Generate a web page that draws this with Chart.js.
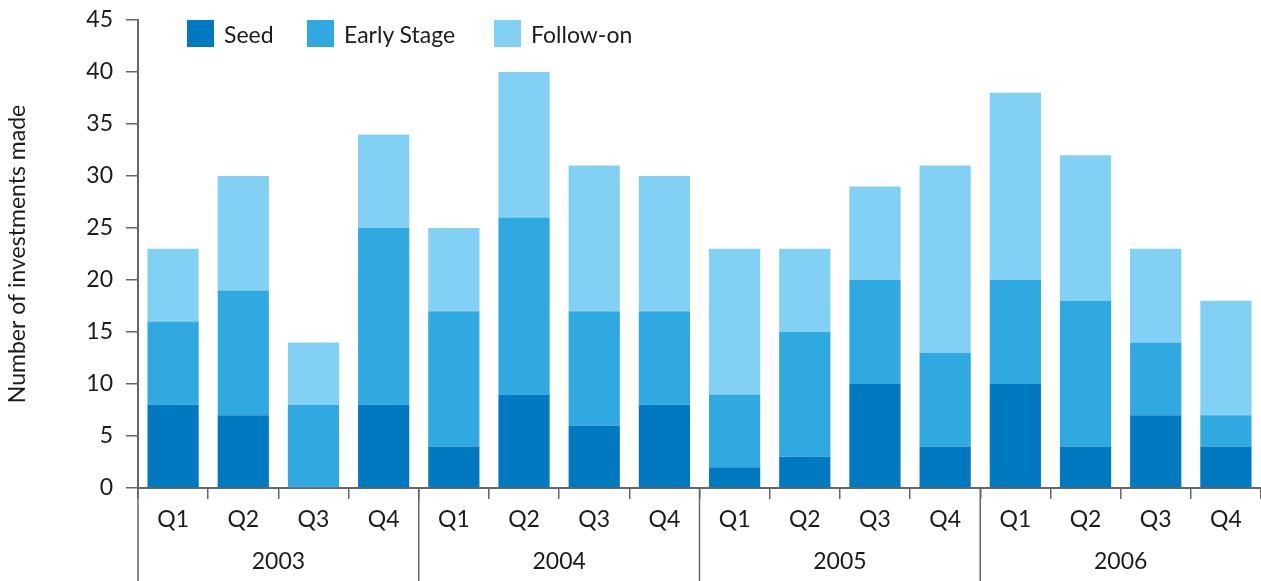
<!DOCTYPE html>
<html lang="en">
<head>
    <meta charset="UTF-8">
    <title>Number of investments made</title>
    <script src="https://cdn.jsdelivr.net/npm/chart.js"></script>
    <style>
        html, body { margin: 0; padding: 0; background: #fff; }
        .wrap { position: relative; width: 1261px; height: 581px; }
        .legend { position: absolute; left: 187px; top: 20px; display: flex; font-family: Lato, sans-serif; font-size: 23px; color: #1e1b1c; }
        .legend .item { display: flex; align-items: center; height: 27px; }
        .legend .box { width: 27px; height: 27px; margin-right: 10px; }
    </style>
</head>
<body>
    <div class="wrap">
        <canvas id="chart"></canvas>
        <div class="legend" id="legend"></div>
    </div>
    <script>
        const quarters = ['Q1', 'Q2', 'Q3', 'Q4', 'Q1', 'Q2', 'Q3', 'Q4', 'Q1', 'Q2', 'Q3', 'Q4', 'Q1', 'Q2', 'Q3', 'Q4'];
        const years = ['2003', '2004', '2005', '2006'];
        const seed       = [8, 7, 0, 8,   4, 9, 6, 8,    2, 3, 10, 4,   10, 4, 7, 4];
        const earlyStage = [8, 12, 8, 17, 13, 17, 11, 9, 7, 12, 10, 9,  10, 14, 7, 3];
        const followOn   = [7, 11, 6, 9,  8, 14, 14, 13, 14, 8, 9, 18,  18, 14, 9, 11];
        const yTicks = [0, 5, 10, 15, 20, 25, 30, 35, 40, 45];

        const colors = { seed: '#0079c1', early: '#30a9e0', follow: '#83d0f5' };
        const axisColor = '#666666';
        const textColor = '#1e1b1c';
        const fontFamily = 'Lato, sans-serif';

        const series = [
            { label: 'Seed', data: seed, color: colors.seed },
            { label: 'Early Stage', data: earlyStage, color: colors.early },
            { label: 'Follow-on', data: followOn, color: colors.follow }
        ];

        // legend as html, widths match the spacing in the original
        const itemWidths = [120, 187, 200];
        const legendEl = document.getElementById('legend');
        series.forEach((s, i) => {
            const item = document.createElement('div');
            item.className = 'item';
            item.style.width = itemWidths[i] + 'px';
            item.innerHTML = `<span class="box" style="background:${s.color}"></span><span>${s.label}</span>`;
            legendEl.appendChild(item);
        });

        // long separators between years, through both label rows
        const yearLines = {
            id: 'yearLines',
            afterDraw(chart) {
                const x = chart.scales.x;
                const step = x.getPixelForValue(1) - x.getPixelForValue(0);
                const ctx = chart.ctx;
                ctx.save();
                ctx.strokeStyle = axisColor;
                ctx.lineWidth = 1.5;
                for (let i = 0; i < quarters.length; i += 4) {
                    const px = x.getPixelForValue(i) - step / 2;
                    ctx.beginPath();
                    ctx.moveTo(px, chart.chartArea.bottom);
                    ctx.lineTo(px, chart.height);
                    ctx.stroke();
                }
                ctx.restore();
            }
        };

        new Chart(document.getElementById('chart'), {
            type: 'bar',
            data: {
                labels: quarters,
                datasets: series.map(s => ({
                    label: s.label,
                    data: s.data,
                    backgroundColor: s.color,
                    borderWidth: 0,
                    barPercentage: 0.73,
                    categoryPercentage: 1
                }))
            },
            options: {
                responsive: true,
                maintainAspectRatio: false,
                animation: false,
                layout: { padding: { top: 20, right: 0, bottom: 0, left: 0 } },
                plugins: {
                    legend: { display: false },
                    tooltip: { enabled: false }
                },
                scales: {
                    x: {
                        stacked: true,
                        offset: true,
                        grid: { drawOnChartArea: false, offset: true, tickLength: 11, color: axisColor, lineWidth: 1.5 },
                        border: { color: axisColor, width: 2 },
                        ticks: { color: textColor, font: { family: fontFamily, size: 23 }, padding: 7, maxRotation: 0, autoSkip: false },
                        afterFit(scale) { scale.height = 48; }
                    },
                    x2: {
                        type: 'category',
                        labels: years,
                        position: 'bottom',
                        offset: true,
                        grid: { display: false },
                        border: { display: false },
                        ticks: { color: textColor, font: { family: fontFamily, size: 23 }, padding: 4, maxRotation: 0 },
                        afterFit(scale) { scale.height = 45; }
                    },
                    y: {
                        stacked: true,
                        min: 0,
                        max: 45,
                        afterBuildTicks(scale) { scale.ticks = yTicks.map(v => ({ value: v })); },
                        grid: { drawOnChartArea: false, tickLength: 12, color: axisColor, lineWidth: 1.5 },
                        border: { color: axisColor, width: 2 },
                        ticks: { color: textColor, font: { family: fontFamily, size: 23 }, padding: 13 },
                        title: {
                            display: true,
                            text: 'Number of investments made',
                            color: textColor,
                            font: { family: fontFamily, size: 23 },
                            padding: { top: 4, bottom: 0 }
                        },
                        afterFit(scale) {
                            scale.width = 138;
                            scale.paddingTop = 0;
                            scale.paddingBottom = 0;
                        }
                    }
                }
            },
            plugins: [yearLines]
        });
    </script>
</body>
</html>
